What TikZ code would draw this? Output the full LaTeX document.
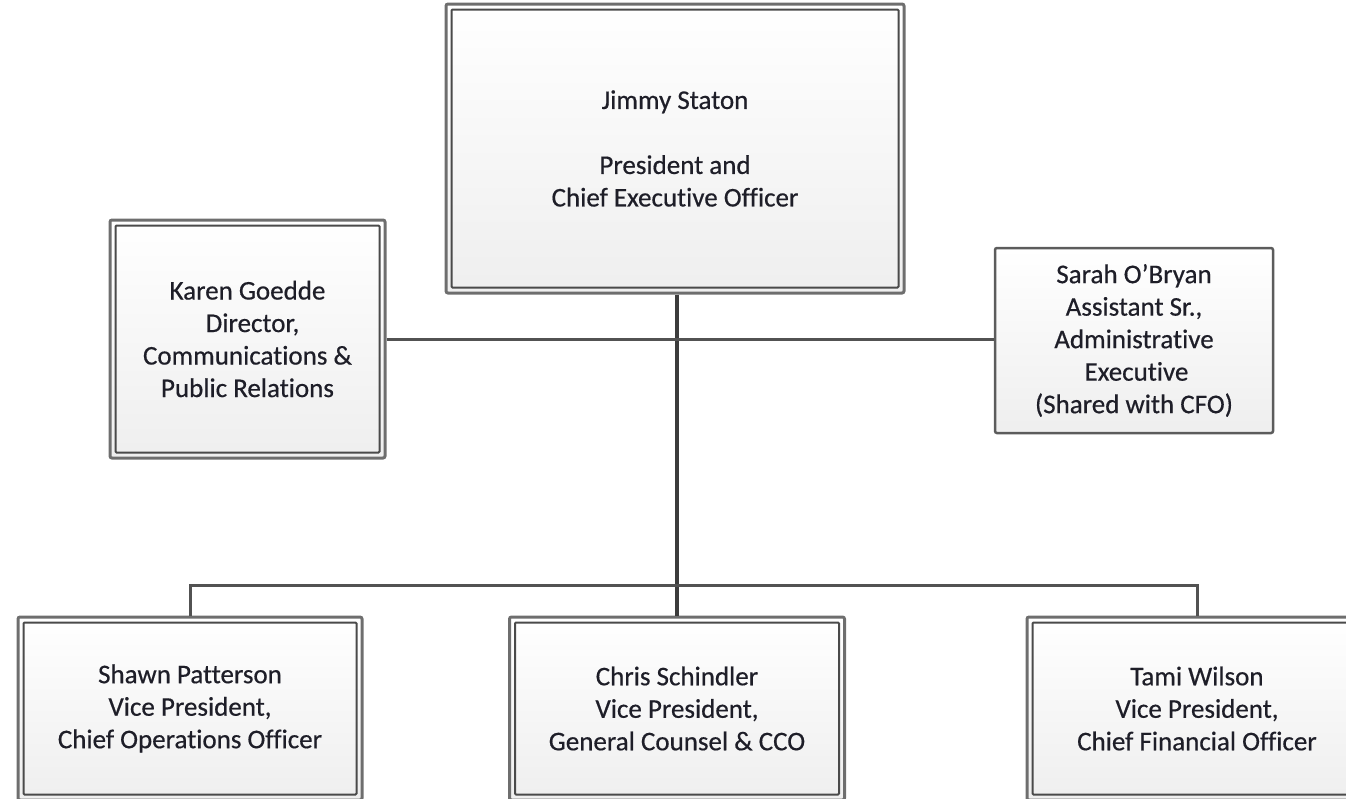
\documentclass[tikz,border=0pt]{standalone}
\usepackage{fontspec}
\setmainfont{Carlito}[Ligatures={NoCommon},FakeBold=0.5]
\definecolor{outerline}{HTML}{6E6E6E}
\definecolor{innerline}{HTML}{4A4A4A}
\definecolor{connline}{HTML}{525252}
\definecolor{trunkline}{HTML}{3C3C3C}
\definecolor{txt}{HTML}{1E1E28}
\begin{document}
\begin{tikzpicture}[x=1pt,y=-1pt,
  box/.style={draw=outerline, line width=3pt, rounded corners=2pt,
    top color=white, bottom color=gray!13, inner sep=0pt, anchor=center,
    align=center, text=txt, font=\fontsize{27}{32.5}\selectfont},
  singlebox/.style={box, line width=2.5pt, draw=innerline!90},
  inner/.style={draw=innerline, line width=2pt},
  conn/.style={draw=connline, line width=3pt},
  trunk/.style={draw=trunkline, line width=3.2pt}]
\useasboundingbox (0,0) rectangle (1346,798);

% nodes
\node[box, minimum width=458pt, minimum height=289pt] (jimmy) at (675,148.5)
  {Jimmy Staton\\[32.5pt]President and\\Chief Executive Officer};
\node[box, minimum width=275pt, minimum height=238pt] (karen) at (247.5,339)
  {Karen Goedde\\\hspace*{10pt}Director,\\Communications \&\\Public Relations};
\node[singlebox, minimum width=278pt, minimum height=185pt] (sarah) at (1134,340.5)
  {Sarah O'Bryan\\Assistant Sr.,\\Administrative\\\hspace*{5pt}Executive\\(Shared with CFO)};
\node[box, minimum width=344pt, minimum height=183pt] (shawn) at (190,708.5)
  {Shawn Patterson\\Vice President,\\Chief Operations Officer};
\node[box, minimum width=335pt, minimum height=183pt] (chris) at (677,708.5)
  {Chris Schindler\\Vice President,\\General Counsel \& CCO};
\node[box, minimum width=340pt, minimum height=183pt] (tami) at (1197,708.5)
  {Tami Wilson\\Vice President,\\Chief Financial Officer};

% inner border lines
\foreach \n in {jimmy,karen,shawn,chris,tami}{
  \draw[inner, rounded corners=1pt] ([xshift=7pt,yshift=-7pt]\n.north west) rectangle ([xshift=-7pt,yshift=7pt]\n.south east);
}

% connectors
\coordinate (bar) at (677,585);
\draw[trunk] (jimmy.south -| chris.north) -- (chris.north);
\draw[conn] (karen.east) -- (karen.east -| sarah.west);
\draw[conn] (shawn.north) |- (bar) -| (tami.north);
\end{tikzpicture}
\end{document}
